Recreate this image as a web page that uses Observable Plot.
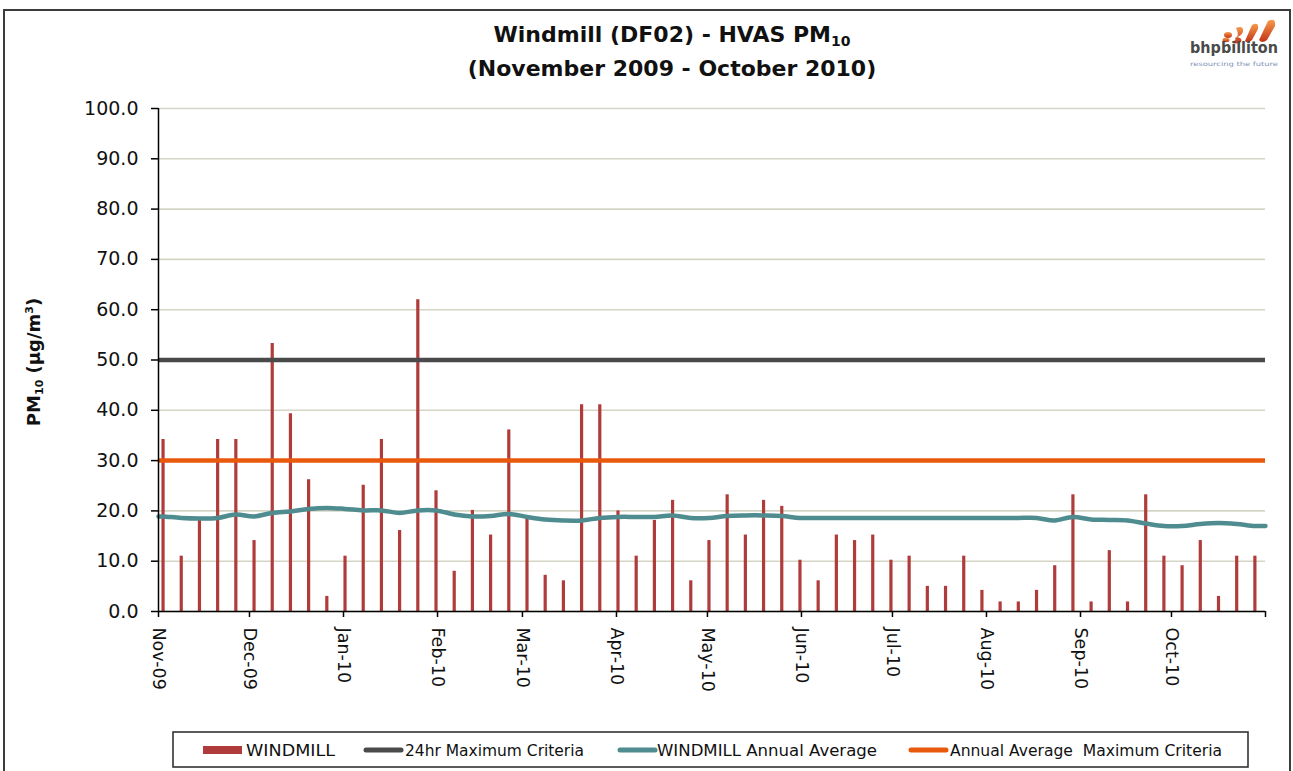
<!DOCTYPE html>
<html><head><meta charset="utf-8">
<script src="https://cdn.jsdelivr.net/npm/d3@7"></script>
<script src="https://cdn.jsdelivr.net/npm/@observablehq/plot@0.6"></script>
<style>
body{margin:0;background:#fff;font-family:"DejaVu Sans",sans-serif;}
#page{position:relative;width:1293px;height:771px;overflow:hidden;}
#frame{position:absolute;left:3px;top:9px;width:1284px;height:790px;border:2px solid #3c3c3c;border-bottom:none;}
#title{position:absolute;left:272px;top:19px;width:800px;text-align:center;font-weight:bold;font-size:22px;line-height:31px;color:#111;}
#title sub{font-size:14px;vertical-align:baseline;position:relative;top:4px;}
#ylabel{position:absolute;left:33px;top:362px;transform:translate(-50%,-50%) rotate(-90deg);white-space:nowrap;font-weight:bold;font-size:18px;color:#111;}
#ylabel sub{font-size:11px;vertical-align:baseline;position:relative;top:3px;}
#ylabel sup{font-size:11px;vertical-align:baseline;position:relative;top:-7px;}
#chart{position:absolute;left:0;top:0;}
#logo{position:absolute;left:1180px;top:14px;}
#legend{position:absolute;left:172px;top:731px;}
</style></head>
<body>
<div id="page">
  <div id="frame"></div>
  <div id="chart"></div>
  <div id="title">Windmill (DF02) - HVAS PM<sub>10</sub><br>(November 2009 - October 2010)</div>
  <div id="ylabel">PM<sub>10</sub> (µg/m<sup>3</sup>)</div>
  <svg id="logo" width="110" height="60">
    <defs><linearGradient id="lg" x1="0" y1="0" x2="0" y2="1"><stop offset="0" stop-color="#f59a4a"/><stop offset="1" stop-color="#c2341a"/></linearGradient></defs>
    <ellipse cx="48" cy="21" rx="4" ry="3" fill="url(#lg)"/>
    <ellipse cx="46" cy="26" rx="3.5" ry="2.2" fill="url(#lg)"/>
    <path d="M56 14 q8 -3 7 4 q-2 4 -6 5 q6 1 4 5 q-4 3 -9 0 q5 -2 3 -4 q5 -2 1 -10z" fill="url(#lg)"/>
    <path d="M72 11 q7 -4 6 4 l-6 11 q-4 4 -7 1 z" fill="url(#lg)"/>
    <path d="M88 7 q8 -4 7 5 l-8 14 q-5 4 -8 0 z" fill="url(#lg)"/>
    <text x="10" y="39" font-family="DejaVu Sans" font-size="15" font-weight="bold" fill="#4a4a4a" textLength="88" lengthAdjust="spacingAndGlyphs">bhpbilliton</text>
    <text x="10" y="52" font-family="DejaVu Sans" font-size="6" fill="#8393b8" textLength="88" lengthAdjust="spacingAndGlyphs">resourcing the future</text>
  </svg>
  <div id="legend"></div>
</div>
<script>
// ---- data ----
const periodStart = "2009-11-01";
const periodEnd = "2010-11-01";
const sampleDates = [
  "2009-11-02","2009-11-08","2009-11-14","2009-11-20","2009-11-26",
  "2009-12-02","2009-12-08","2009-12-14","2009-12-20","2009-12-26",
  "2010-01-01","2010-01-07","2010-01-13","2010-01-19","2010-01-25","2010-01-31",
  "2010-02-06","2010-02-12","2010-02-18","2010-02-24",
  "2010-03-02","2010-03-08","2010-03-14","2010-03-20","2010-03-26",
  "2010-04-01","2010-04-07","2010-04-13","2010-04-19","2010-04-25",
  "2010-05-01","2010-05-07","2010-05-13","2010-05-19","2010-05-25","2010-05-31",
  "2010-06-06","2010-06-12","2010-06-18","2010-06-24","2010-06-30",
  "2010-07-06","2010-07-12","2010-07-18","2010-07-24","2010-07-30",
  "2010-08-05","2010-08-11","2010-08-17","2010-08-23","2010-08-29",
  "2010-09-04","2010-09-10","2010-09-16","2010-09-22","2010-09-28",
  "2010-10-04","2010-10-10","2010-10-16","2010-10-22","2010-10-28"
];
const windmill = [
  34.2, 11.0, 18.1, 34.2, 34.2, 14.1, 53.3, 39.3, 26.2, 3.0,
  11.0, 25.1, 34.2, 16.1, 62.0, 24.0, 8.0, 20.1, 15.2, 36.1,
  18.3, 7.2, 6.1, 41.1, 41.1, 20.0, 11.0, 18.1, 22.1, 6.1,
  14.1, 23.2, 15.2, 22.1, 20.9, 10.2, 6.1, 15.2, 14.1, 15.2,
  10.2, 11.0, 5.0, 5.0, 11.0, 4.2, 1.9, 1.9, 4.2, 9.1,
  23.2, 1.9, 12.1, 1.9, 23.2, 11.0, 9.1, 14.1, 3.0, 11.0, 11.0
];
// annual average: value at period start, at each sample date, at period end
const annualAverage = [
  18.9,
  18.9, 18.6, 18.5, 18.6, 19.3, 18.9, 19.6, 19.9, 20.4, 20.6,
  20.4, 20.1, 20.1, 19.6, 20.1, 20.1, 19.3, 18.9, 19.0, 19.4,
  18.8, 18.3, 18.1, 18.1, 18.6, 18.8, 18.8, 18.8, 19.1, 18.6,
  18.6, 19.0, 19.1, 19.1, 19.0, 18.6, 18.6, 18.6, 18.6, 18.6,
  18.6, 18.6, 18.6, 18.6, 18.6, 18.6, 18.6, 18.6, 18.6, 18.1,
  18.8, 18.3, 18.2, 18.1, 17.5, 17.0, 17.0, 17.4, 17.6, 17.4, 17.0,
  17.0
];
const criteria24h = 50;
const annualCriteria = 30;
const yTicks = [0, 10, 20, 30, 40, 50, 60, 70, 80, 90, 100];
const monthTicks = ["2009-11-01","2009-12-01","2010-01-01","2010-02-01","2010-03-01","2010-04-01",
  "2010-05-01","2010-06-01","2010-07-01","2010-08-01","2010-09-01","2010-10-01","2010-11-01"];
const legendLabels = ["WINDMILL", "24hr Maximum Criteria", "WINDMILL Annual Average", "Annual Average  Maximum Criteria"];
const colors = {bar: "#b03b3b", c24: "#4a4a4a", avg: "#4f8c8f", annual: "#e8590c"};

// ---- build ----
const d0 = new Date(periodStart + "T00:00:00Z");
const d1 = new Date(periodEnd + "T00:00:00Z");
const rows = sampleDates.map((d, i) => ({date: new Date(d + "T12:00:00Z"), value: windmill[i]}));
const avgDates = [d0, ...rows.map(r => r.date), d1];
const avgRows = avgDates.map((d, i) => ({date: d, value: annualAverage[i]}));
const ticks = monthTicks.map(d => new Date(d + "T00:00:00Z"));
const fmt = d3.utcFormat("%b-%y");

const chart = Plot.plot({
  width: 1293, height: 720,
  marginLeft: 158, marginRight: 28, marginTop: 108, marginBottom: 109,
  style: {fontFamily: "DejaVu Sans", background: "transparent", overflow: "visible", color: "#111"},
  x: {type: "utc", domain: [d0, d1]},
  y: {domain: [0, 100]},
  marks: [
    Plot.gridY(yTicks, {stroke: "#d5d5c6", strokeOpacity: 1, strokeWidth: 1.6}),
    Plot.ruleX(rows, {x: "date", y1: 0, y2: "value", stroke: colors.bar, strokeWidth: 3.2}),
    Plot.ruleY([criteria24h], {stroke: colors.c24, strokeWidth: 4.5}),
    Plot.ruleY([annualCriteria], {stroke: colors.annual, strokeWidth: 4.5}),
    Plot.line(avgRows, {x: "date", y: "value", curve: "catmull-rom", stroke: colors.avg, strokeWidth: 4.5}),
    Plot.ruleX([d0], {stroke: "#000", strokeWidth: 1.5}),
    Plot.ruleY([0], {stroke: "#000", strokeWidth: 1.5}),
    Plot.axisY({ticks: yTicks, tickFormat: d => d.toFixed(1), tickSize: 7, tickPadding: 13,
      fontSize: 19, fill: "#111", stroke: "#000", strokeWidth: 1.5, label: null}),
    Plot.axisX({ticks: ticks, tickFormat: d => (+d >= +d1 ? "" : fmt(d)), tickRotate: 90,
      tickSize: 6, tickPadding: 10, fontSize: 17.5, fill: "#111", stroke: "#000", strokeWidth: 1.5, label: null})
  ]
});
document.getElementById("chart").appendChild(chart);

// legend
const items = [
  {label: legendLabels[0], color: colors.bar, kind: "rect", sx: 31, tx: 74, tw: 89},
  {label: legendLabels[1], color: colors.c24, kind: "line", sx: 191, tx: 233, tw: 179},
  {label: legendLabels[2], color: colors.avg, kind: "line", sx: 445, tx: 485, tw: 220},
  {label: legendLabels[3], color: colors.annual, kind: "line", sx: 736, tx: 778, tw: 272}
];
let s = `<svg width="1078" height="38"><rect x="1" y="1" width="1075" height="35" fill="#fff" stroke="#333" stroke-width="1.6"/>`;
for (const it of items) {
  if (it.kind === "rect") s += `<rect x="${it.sx}" y="15" width="39" height="8" fill="${it.color}"/>`;
  else s += `<line x1="${it.sx + 3}" x2="${it.sx + 38}" y1="19" y2="19" stroke="${it.color}" stroke-width="5" stroke-linecap="round"/>`;
  s += `<text x="${it.tx}" y="24.5" font-family="DejaVu Sans" font-size="15" fill="#111" textLength="${it.tw}" lengthAdjust="spacingAndGlyphs" xml:space="preserve">${it.label}</text>`;
}
s += `</svg>`;
document.getElementById("legend").innerHTML = s;
</script>
</body></html>
